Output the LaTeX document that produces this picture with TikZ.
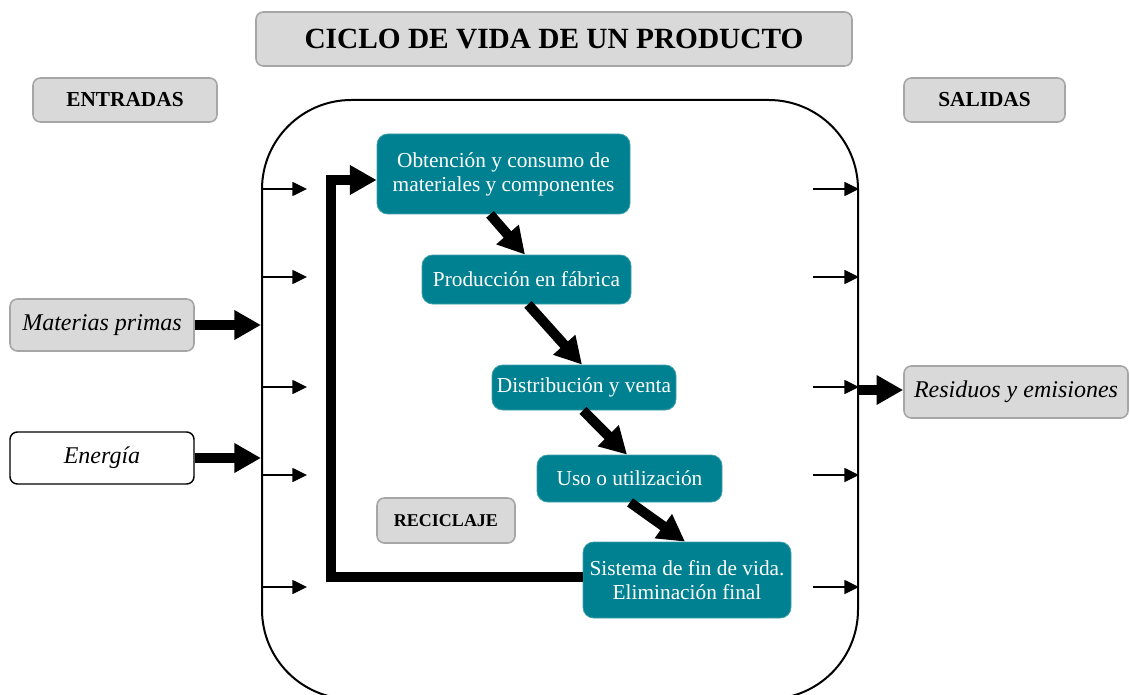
\documentclass[tikz,border=0pt]{standalone}
\usepackage{fontspec}
\setmainfont{Liberation Serif}
\usetikzlibrary{arrows.meta}
\definecolor{tealbox}{RGB}{0,129,145}
\definecolor{graybox}{RGB}{217,217,217}
\definecolor{grayline}{RGB}{166,166,166}
\def\px{0.75pt}
\begin{document}
\begin{tikzpicture}[x=0.75pt,y=-0.75pt,
  graynode/.style={draw=grayline, fill=graybox, line width=1.2pt, rounded corners=5.5pt, inner sep=0pt, align=center},
  whitenode/.style={draw=black, fill=white, line width=1.1pt, rounded corners=5.5pt, inner sep=0pt, align=center},
  tealnode/.style={fill=tealbox, draw=tealbox!75!white, line width=0.6pt, rounded corners=8pt, text=white, inner sep=0pt, align=center, font=\fontsize{16}{18}\selectfont},
  thinarrow/.style={line width=1.1pt, -{Triangle[length=11pt,width=10.5pt]}},
  thickarrow/.style={line width=7.5pt, -{Triangle[length=20pt,width=21pt]}},
]
\useasboundingbox (0,0) rectangle (1130,695);

% title and headers
\node[graynode, minimum width=596*\px, minimum height=54*\px, font=\fontsize{22}{26}\selectfont\bfseries] (title) at (554,39) {CICLO DE VIDA DE UN PRODUCTO};
\node[graynode, minimum width=184*\px, minimum height=44*\px, font=\fontsize{16}{18}\selectfont\bfseries] (entradas) at (125,100) {ENTRADAS};
\node[graynode, minimum width=161*\px, minimum height=44*\px, font=\fontsize{16}{18}\selectfont\bfseries] (salidas) at (984.5,100) {SALIDAS};

% big cycle frame
\node[draw=black, line width=1.5pt, rounded corners=67pt, minimum width=596*\px, minimum height=599*\px, inner sep=0pt] (ciclo) at (560,399.5) {};

% inputs / outputs
\node[graynode, minimum width=184*\px, minimum height=52*\px, font=\fontsize{18}{21}\selectfont\itshape] (mat) at (102,325) {Materias primas};
\node[whitenode, minimum width=184*\px, minimum height=52*\px, font=\fontsize{18}{21}\selectfont\itshape] (ene) at (102,458) {Energía};
\node[graynode, minimum width=224*\px, minimum height=52*\px, font=\fontsize{18}{21}\selectfont\itshape] (res) at (1016,392) {Residuos y emisiones};

% stages
\node[tealnode, minimum width=253*\px, minimum height=80*\px] (obt) at (503.5,174) {Obtención y consumo de\\materiales y componentes};
\node[tealnode, minimum width=209*\px, minimum height=49*\px] (prod) at (526.5,279.5) {Producción en fábrica};
\node[tealnode, minimum width=184*\px, minimum height=45*\px] (dist) at (584,387.5) {Distribución y venta};
\node[tealnode, minimum width=185*\px, minimum height=47*\px] (uso) at (629.5,478.5) {Uso o utilización};
\node[tealnode, minimum width=208*\px, minimum height=76*\px] (sis) at (687,580) {Sistema de fin de vida.\\Eliminación final};
\node[graynode, minimum width=138*\px, minimum height=45*\px, font=\fontsize{13.5}{16}\selectfont\bfseries] (rec) at (446,520.5) {RECICLAJE};

% small arrows
\foreach \y in {189,277,387,475,587}{
  \draw[thinarrow] (ciclo.west |- 0,\y) -- ++(46,0);
  \draw[thinarrow] (ciclo.east |- 0,\y) ++(-46,0) -- (ciclo.east |- 0,\y);
}

% thick arrows in/out
\draw[thickarrow] (mat.east) -- (ciclo.west |- mat.east);
\draw[thickarrow] (ene.east) -- (ciclo.west |- ene.east);
\draw[thickarrow] (ciclo.east |- 0,390) -- (res.west |- 0,390);

% stage arrows
\draw[thickarrow] ([xshift=-13.5*\px]obt.south) -- ([xshift=-1.5*\px]prod.north);
\draw[thickarrow] ([xshift=1.5*\px]prod.south) -- ([xshift=-2*\px]dist.north);
\draw[thickarrow] ([xshift=-1*\px]dist.south) -- ([xshift=-2.5*\px]uso.north);
\draw[thickarrow] ([xshift=0.5*\px]uso.south) -- ([xshift=-2*\px]sis.north);

% recycling loop
\draw[thickarrow, line join=miter] ([yshift=3*\px]sis.west) -- ++(-252,0) |- ([yshift=-6*\px]obt.west);
\end{tikzpicture}
\end{document}
